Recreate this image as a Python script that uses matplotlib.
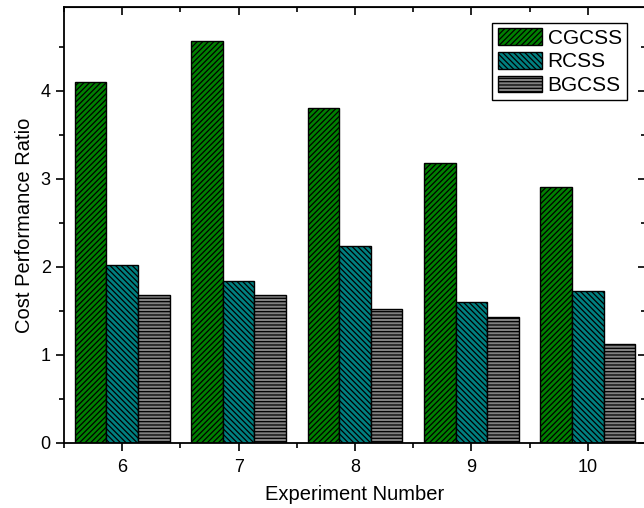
import matplotlib.pyplot as plt
import numpy as np

plt.rcParams['font.family'] = ['Liberation Sans', 'DejaVu Sans']
plt.rcParams['hatch.linewidth'] = 0.9

experiments = [6, 7, 8, 9, 10]
cgcss = [4.10, 4.57, 3.80, 3.18, 2.91]
rcss = [2.02, 1.84, 2.24, 1.60, 1.73]
bgcss = [1.675, 1.68, 1.52, 1.425, 1.125]

series = [
    ("CGCSS", cgcss, "#008000", "//////"),
    ("RCSS", rcss, "#008080", "\\\\\\\\\\\\"),
    ("BGCSS", bgcss, "#808080", "-----"),
]

fig = plt.figure(figsize=(6.44, 5.08), dpi=100)
ax = fig.add_axes([64 / 644, (508 - 442.7) / 508, (646 - 64) / 644, (442.7 - 7.3) / 508])

x = np.array(experiments, dtype=float)
w = 0.272
for i, (name, vals, col, hatch) in enumerate(series):
    ax.bar(x + (i - 1) * w, vals, width=w, color=col, edgecolor="black",
           linewidth=1.0, hatch=hatch, label=name)

ax.set_xlim(5.5, 10.5)
ax.set_ylim(0, 4.95)
ax.set_xticks(experiments)
ax.set_xticks(np.arange(5.5, 10.6, 1.0), minor=True)
ax.set_yticks([0, 1, 2, 3, 4])
ax.set_yticks(np.arange(0.5, 4.6, 1.0), minor=True)

for s in ax.spines.values():
    s.set_linewidth(1.3)

ax.tick_params(axis="both", which="major", labelsize=13, length=6, width=1.2, direction="out")
ax.tick_params(axis="both", which="minor", length=3.5, width=1.2, direction="out")
ax.tick_params(axis="x", which="both", pad=6)

ax.set_xlabel("Experiment Number", fontsize=14.5, labelpad=6)
ax.set_ylabel("Cost Performance Ratio", fontsize=14.5, labelpad=5)

# top/right ticks point inward like Origin plots
sec_x = ax.secondary_xaxis("top")
sec_x.set_xticks(experiments)
sec_x.set_xticks(np.arange(5.5, 10.6, 1.0), minor=True)
sec_x.tick_params(which="major", direction="in", length=6, width=1.2)
sec_x.tick_params(which="minor", direction="in", length=3.5, width=1.2)
sec_x.set_xticklabels([])
sec_y = ax.secondary_yaxis("right")
sec_y.set_yticks([0, 1, 2, 3, 4])
sec_y.set_yticks(np.arange(0.5, 4.6, 1.0), minor=True)
sec_y.tick_params(which="major", direction="in", length=6, width=1.2)
sec_y.tick_params(which="minor", direction="in", length=3.5, width=1.2)
sec_y.set_yticklabels([])

leg = ax.legend(loc="upper right", bbox_to_anchor=(627 / 644, 1 - 23 / 508),
                bbox_transform=fig.transFigure, fontsize=15, frameon=True,
                fancybox=False, edgecolor="black", framealpha=1,
                handlelength=2.15, handleheight=0.85, handletextpad=0.25,
                labelspacing=0.2, borderpad=0.25, borderaxespad=0)
leg.get_frame().set_linewidth(1.0)

fig.savefig("out.png", dpi=100)
